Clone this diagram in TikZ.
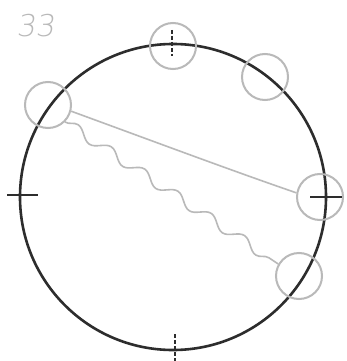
\documentclass[tikz,border=0pt]{standalone}
\usepackage{fontspec}
\setmainfont{DejaVu Sans}
\newfontfamily\thinfont{DejaVu Sans ExtraLight}
\usetikzlibrary{decorations.pathmorphing}
\definecolor{pencil}{RGB}{45,45,45}
\definecolor{lightpencil}{RGB}{185,185,185}
\tikzset{
  bigcircle/.style={draw=pencil, line width=2.6pt},
  ring/.style={circle, draw=lightpencil, line width=2pt, minimum size=46pt, inner sep=0pt},
  tick/.style={draw=pencil, line width=1.1pt},
  dashtick/.style={draw=pencil, line width=1.1pt, dash pattern=on 4pt off 2pt},
  greyline/.style={draw=lightpencil, line width=1.6pt},
}
\begin{document}
\begin{tikzpicture}[x=1pt,y=-1pt]
\useasboundingbox (0,0) rectangle (346,361);
\fill[white] (0,0) rectangle (346,361);
\node[text=lightpencil, font=\thinfont\fontsize{30}{30}\selectfont, xslant=0.15, anchor=center, inner sep=0pt] (num) at (37,26) {33};
\coordinate (C) at (173,197);
\draw[bigcircle] (C) circle[radius=153];
\node[ring] (T) at (173,46) {};
\node[ring] (UR) at (265,77) {};
\node[ring] (L) at (48,105) {};
\node[ring] (R) at (320,197) {};
\node[ring] (LR) at (299,276) {};
% ticks
\coordinate (tA) at (172,30); \coordinate (tB) at (172,56);
\draw[dashtick] (tA) -- (tB);
\coordinate (lA) at (7,195); \coordinate (lB) at (38,195);
\draw[tick] (lA) -- (lB);
\coordinate (rA) at (310,197); \coordinate (rB) at (342,197);
\draw[tick] (rA) -- (rB);
\coordinate (bA) at (175,334); \coordinate (bB) at (175,361);
\draw[dashtick] (bA) -- (bB);
% connectors
\draw[greyline] (L.-15) .. controls (150,140) and (230,170) .. (R.170);
\draw[greyline, decorate, decoration={snake, amplitude=5pt, segment length=40pt}] (L.-45) -- (LR.150);
\end{tikzpicture}
\end{document}
